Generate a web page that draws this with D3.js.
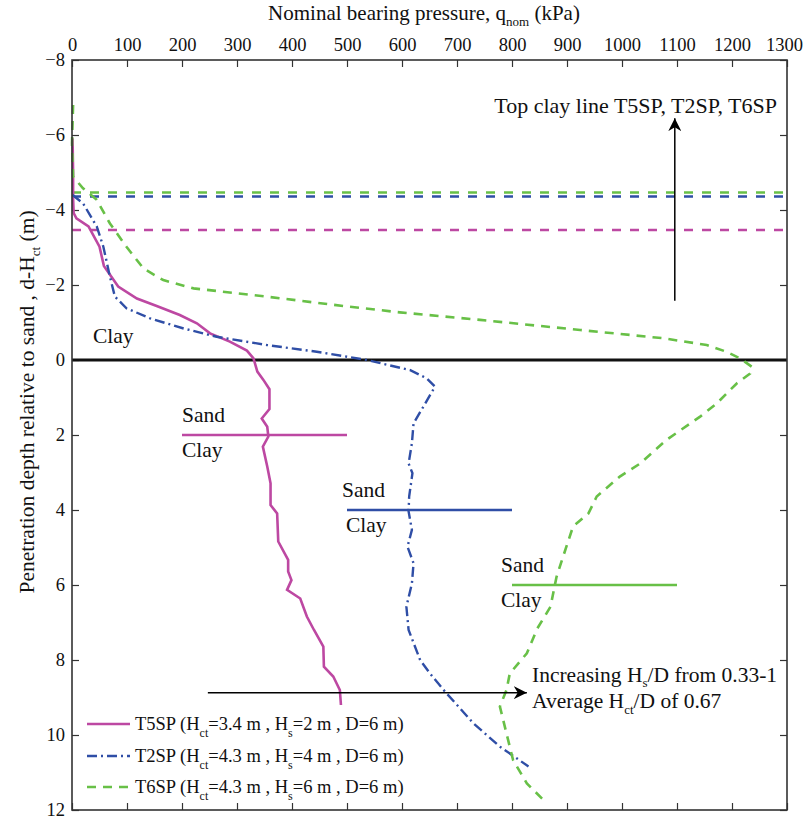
<!DOCTYPE html>
<html>
<head>
<meta charset="utf-8">
<title>Bearing pressure vs depth</title>
<script src="https://cdn.jsdelivr.net/npm/d3@7"></script>
<style>
    body { margin: 0; background: #fff; }
    svg text { font-family: "Liberation Serif", "Times New Roman", serif; fill: #111; }
    .axis path { display: none; }
    .axis line { stroke: #333; stroke-width: 1.2; }
    .axis text { font-size: 18.5px; }
</style>
</head>
<body>
<script>
// data: depth d-Hct (m) and nominal pressure (kPa)
var t5Depth = [-5.91, -5.0, -4.3, -3.92, -3.78, -3.56, -3.02, -2.51, -1.96, -1.64, -1.44, -1.2, -0.98, -0.71, -0.49, -0.25, -0.04,
    0.31, 0.53, 0.78, 1.31, 1.56, 1.78, 2.04, 2.31, 2.84, 3.29, 3.87, 4.09, 4.84, 5.33, 5.64, 5.87, 6.13, 6.36, 6.84, 7.2,
    7.64, 8.18, 8.44, 8.8, 9.2];
var t5Q = [1, 2, 2, 3, 8, 30, 50, 58, 84, 118, 154, 196, 227, 251, 287, 318, 330,
    337, 348, 359, 359, 345, 355, 357, 347, 355, 361, 361, 373, 375, 393, 393, 399, 391, 415, 427, 440,
    457, 458, 475, 487, 489];

var t2Depth = [-4.4, -4.18, -3.56, -3.02, -2.22, -1.69, -1.38, -1.11, -0.84, -0.62, -0.4, -0.22, 0.0,
    0.27, 0.49, 0.71, 1.24, 1.69, 2.22, 2.76, 3.02, 3.64, 4.04, 4.53, 4.98, 5.42, 5.96, 6.58, 7.2,
    8.0, 8.36, 8.84, 9.69, 10.31, 10.84];
var t2Q = [1, 20, 45, 57, 69, 78, 99, 142, 203, 263, 354, 445, 536,
    615, 645, 660, 639, 621, 618, 612, 619, 613, 612, 618, 610, 621, 618, 608, 612,
    633, 651, 678, 730, 778, 830];

var t6Depth = [-6.8, -5.78, -4.89, -4.58, -4.27, -3.64, -3.02, -2.44, -2.13, -1.91, -1.69, -1.47, -1.27, -1.07, -0.8,
    -0.58, -0.4, -0.22, -0.04, 0.18, 0.36, 0.62, 1.16, 1.51, 2.13, 2.76, 3.11, 3.64, 4.09, 4.44, 5.24, 5.78,
    6.58, 7.16, 7.82, 8.36, 8.8, 9.24, 9.96, 10.67, 11.29, 11.82];
var t6Q = [2, 0, 2, 20, 45, 69, 99, 130, 166, 221, 354, 476, 596, 742, 924,
    1075, 1154, 1190, 1215, 1236, 1233, 1209, 1172, 1142, 1081, 1033, 996, 954, 939, 911, 893, 881,
    870, 846, 827, 796, 790, 778, 790, 802, 827, 863];

// top clay line depth for each test, sand/clay interface markers
var topClayDepth = [-3.47, -4.36, -4.47];
var interfaceDepth = [2, 4, 6];
var interfaceQ = [[200, 500], [500, 800], [800, 1100]];

var xTicks = d3.range(0, 1301, 100);
var yTicks = d3.range(-8, 13, 2);

var w = 804, h = 826;
var padLeft = 72, padRight = 787, padTop = 60, padBottom = 810;

var colors = ["#bd48a2", "#2f4ea6", "#68c047"];
var dashes = [null, "10,4,2,4", "9,7"];
var sandShift = [0, -5, -11];
var clayShift = [0, -1, -11];

var xScale = d3.scaleLinear().domain([0, 1300]).range([padLeft, padRight]);
var yScale = d3.scaleLinear().domain([-8, 12]).range([padTop, padBottom]);

var svg = d3.select("body").append("svg")
    .attr("width", w)
    .attr("height", h);

svg.append("defs").append("marker")
    .attr("id", "arrow")
    .attr("viewBox", "0 0 10 10")
    .attr("refX", 10).attr("refY", 5)
    .attr("markerWidth", 13).attr("markerHeight", 13)
    .attr("markerUnits", "userSpaceOnUse")
    .attr("orient", "auto")
    .append("path")
    .attr("d", "M0,0 L10,5 L0,10 L3,5 Z")
    .attr("fill", "#000");

// axes (ticks pointing inward)
var topAxis = svg.append("g").attr("class", "axis")
    .attr("transform", "translate(0," + padTop + ")")
    .call(d3.axisTop(xScale).tickValues(xTicks).tickSize(-7).tickPadding(9).tickFormat(d3.format("d")));
// keep the last label inside the page
topAxis.selectAll(".tick text")
    .filter(function(d) { return d == 1300; })
    .attr("dx", -3);
svg.append("g").attr("class", "axis")
    .attr("transform", "translate(0," + padBottom + ")")
    .call(d3.axisBottom(xScale).tickValues(xTicks).tickSize(-7).tickFormat(""));
svg.append("g").attr("class", "axis")
    .attr("transform", "translate(" + padLeft + ",0)")
    .call(d3.axisLeft(yScale).tickValues(yTicks).tickSize(-7).tickPadding(7));
svg.append("g").attr("class", "axis")
    .attr("transform", "translate(" + padRight + ",0)")
    .call(d3.axisRight(yScale).tickValues(yTicks).tickSize(-7).tickFormat(""));

// top clay lines
svg.selectAll(".topclay")
    .data(topClayDepth)
    .enter().append("line")
    .attr("x1", xScale(0)).attr("x2", xScale(1300))
    .attr("y1", function(d) { return yScale(d); })
    .attr("y2", function(d) { return yScale(d); })
    .attr("stroke", function(d, i) { return colors[i]; })
    .attr("stroke-width", 2.5)
    .attr("stroke-dasharray", "9,9");

// sand / clay boundary markers
svg.selectAll(".iface")
    .data(interfaceDepth)
    .enter().append("line")
    .attr("x1", function(d, i) { return xScale(interfaceQ[i][0]); })
    .attr("x2", function(d, i) { return xScale(interfaceQ[i][1]); })
    .attr("y1", function(d) { return yScale(d); })
    .attr("y2", function(d) { return yScale(d); })
    .attr("stroke", function(d, i) { return colors[i]; })
    .attr("stroke-width", 2.5);

svg.selectAll(".sandlbl")
    .data(interfaceDepth)
    .enter().append("text")
    .attr("x", function(d, i) { return xScale(interfaceQ[i][0]) + sandShift[i]; })
    .attr("y", function(d) { return yScale(d) - 13; })
    .attr("font-size", "21.5px")
    .text("Sand");
svg.selectAll(".claylbl")
    .data(interfaceDepth)
    .enter().append("text")
    .attr("x", function(d, i) { return xScale(interfaceQ[i][0]) + clayShift[i]; })
    .attr("y", function(d) { return yScale(d) + 21.5; })
    .attr("font-size", "21.5px")
    .text("Clay");

// sand surface
svg.append("line")
    .attr("x1", xScale(0)).attr("x2", xScale(1300))
    .attr("y1", yScale(0)).attr("y2", yScale(0))
    .attr("stroke", "#111").attr("stroke-width", 3);
svg.append("text")
    .attr("x", xScale(38)).attr("y", yScale(-0.45))
    .attr("font-size", "21.5px")
    .text("Clay");

// curves
var series = [[t5Depth, t5Q], [t2Depth, t2Q], [t6Depth, t6Q]];
var line = d3.line()
    .x(function(p) { return xScale(p[1]); })
    .y(function(p) { return yScale(p[0]); });

series.forEach(function(s, i) {
    var pts = s[0].map(function(d, j) { return [d, s[1][j]]; });
    svg.append("path")
        .datum(pts)
        .attr("d", line)
        .attr("fill", "none")
        .attr("stroke", colors[i])
        .attr("stroke-width", i == 1 ? 2.4 : 2.6)
        .attr("stroke-dasharray", dashes[i]);
});

// arrows
svg.append("line")
    .attr("x1", xScale(1096)).attr("x2", xScale(1096))
    .attr("y1", yScale(-1.58)).attr("y2", yScale(-6.45))
    .attr("stroke", "#000").attr("stroke-width", 1.5)
    .attr("marker-end", "url(#arrow)");
svg.append("text")
    .attr("x", 777).attr("y", 113)
    .attr("text-anchor", "end")
    .attr("font-size", "22px")
    .text("Top clay line T5SP, T2SP, T6SP");

svg.append("line")
    .attr("x1", xScale(247)).attr("x2", xScale(827))
    .attr("y1", yScale(8.87)).attr("y2", yScale(8.87))
    .attr("stroke", "#000").attr("stroke-width", 1.5)
    .attr("marker-end", "url(#arrow)");

var t1 = svg.append("text").attr("x", 532).attr("y", 682).attr("font-size", "21.5px");
t1.append("tspan").text("Increasing H");
t1.append("tspan").attr("font-size", "13px").attr("dy", 5).text("s");
t1.append("tspan").attr("dy", -5).text("/D from 0.33-1");
var t2 = svg.append("text").attr("x", 532).attr("y", 708).attr("font-size", "21.5px");
t2.append("tspan").text("Average H");
t2.append("tspan").attr("font-size", "13px").attr("dy", 6).text("ct");
t2.append("tspan").attr("dy", -6).text("/D of 0.67");

// legend
var legendNames = ["T5SP", "T2SP", "T6SP"];
var legendHct = ["3.4", "4.3", "4.3"];
var legendHs = ["2", "4", "6"];
var legendY = [724, 756, 787];

legendNames.forEach(function(name, i) {
    var g = svg.append("g").attr("transform", "translate(87," + legendY[i] + ")");
    g.append("line")
        .attr("x1", 0).attr("x2", 43)
        .attr("stroke", colors[i])
        .attr("stroke-width", i == 1 ? 2.4 : 2.6)
        .attr("stroke-dasharray", dashes[i]);
    var t = g.append("text").attr("x", 48).attr("y", 6).attr("font-size", "18.5px");
    t.append("tspan").text(name + " (H");
    t.append("tspan").attr("font-size", "12px").attr("dy", 7).text("ct");
    t.append("tspan").attr("dy", -7).text("=" + legendHct[i] + " m , H");
    t.append("tspan").attr("font-size", "12px").attr("dy", 7).text("s");
    t.append("tspan").attr("dy", -7).text("=" + legendHs[i] + " m , D=6 m)");
});

// frame
svg.append("rect")
    .attr("x", padLeft).attr("y", padTop)
    .attr("width", padRight - padLeft).attr("height", padBottom - padTop)
    .attr("fill", "none")
    .attr("stroke", "#333")
    .attr("stroke-width", 1.6);

// axis titles
var xt = svg.append("text")
    .attr("x", 424).attr("y", 20)
    .attr("text-anchor", "middle")
    .attr("font-size", "21px");
xt.append("tspan").text("Nominal bearing pressure, q");
xt.append("tspan").attr("font-size", "13px").attr("dy", 6).text("nom");
xt.append("tspan").attr("dy", -6).text(" (kPa)");

var yt = svg.append("text")
    .attr("transform", "translate(34,402) rotate(-90)")
    .attr("text-anchor", "middle")
    .attr("font-size", "21.5px");
yt.append("tspan").text("Penetration depth relative to sand , d-H");
yt.append("tspan").attr("font-size", "13px").attr("dy", 6).text("ct");
yt.append("tspan").attr("dy", -6).text(" (m)");
</script>
</body>
</html>
